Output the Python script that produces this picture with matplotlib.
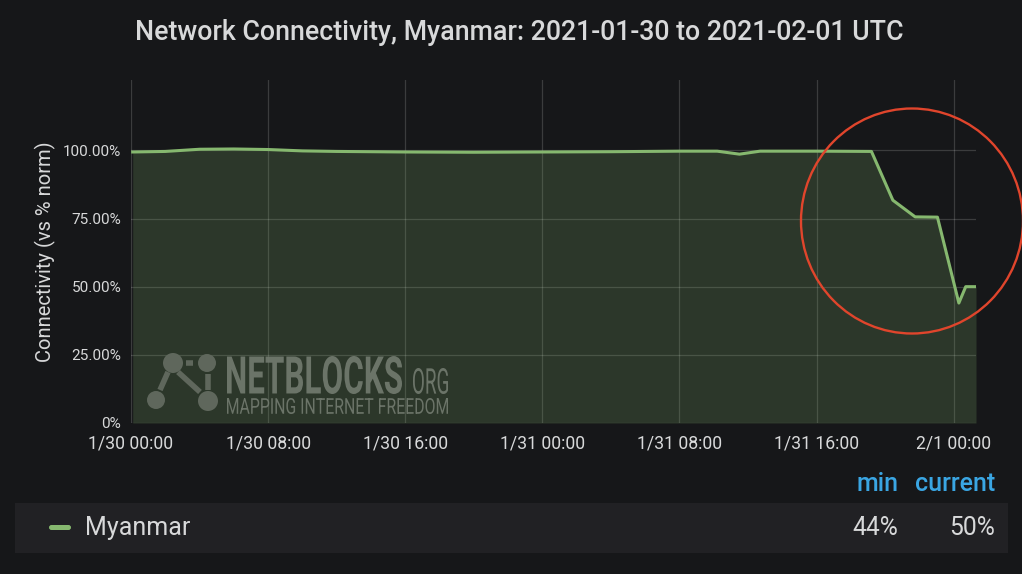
import matplotlib
matplotlib.use("Agg")
import matplotlib.pyplot as plt
from matplotlib.patches import Ellipse, Circle, PathPatch, FancyBboxPatch, Rectangle
from matplotlib.lines import Line2D
from matplotlib.transforms import Affine2D, IdentityTransform
from matplotlib.textpath import TextPath
from matplotlib.font_manager import FontProperties

# hours since 2021-01-30 00:00 UTC
hours = [0.1, 2.0, 4.0, 6.0, 8.0, 10.0, 12.0, 16.0, 20.0, 24.0, 28.0, 32.0,
         34.2, 35.5, 36.7, 40.0, 43.2, 44.45, 45.75, 47.05, 48.3, 48.7, 49.3]
connectivity = [99.4, 99.6, 100.4, 100.5, 100.3, 99.8, 99.6, 99.4, 99.3, 99.4,
                99.5, 99.7, 99.7, 98.6, 99.7, 99.7, 99.6, 81.7, 75.6, 75.5,
                44.0, 50.0, 50.0]
xtick_hours = [0, 8, 16, 24, 32, 40, 48]
xtick_labels = ["1/30 00:00", "1/30 08:00", "1/30 16:00", "1/31 00:00",
                "1/31 08:00", "1/31 16:00", "2/1 00:00"]
ytick_values = [0, 25, 50, 75, 100]
ytick_labels = ["0%", "25.00%", "50.00%", "75.00%", "100.00%"]
series_name = "Myanmar"
stat_names = ["min", "current"]
stat_values = ["44%", "50%"]

W, H = 1022, 574
BG = "#161719"
GREEN = "#86b86f"
TXT = "#d8d9da"

plt.rcParams['font.family'] = ['Roboto', 'DejaVu Sans']

fig = plt.figure(figsize=(W / 100, H / 100), dpi=100, facecolor=BG)
ax = fig.add_axes([131 / W, (H - 423) / H, (976 - 131) / W, (423 - 80) / H])
ax.set_facecolor(BG)

ax.fill_between(hours, connectivity, 0, color=GREEN, alpha=0.2, lw=0, zorder=2)
ax.plot(hours, connectivity, color=GREEN, lw=2.2, zorder=3, solid_joinstyle='round')

ax.set_xlim(hours[0], hours[-1])
ax.set_ylim(0, 125.8)
ax.set_xticks(xtick_hours)
ax.set_xticklabels(xtick_labels)
ax.set_yticks(ytick_values)
ax.set_yticklabels(ytick_labels)
ax.tick_params(axis='both', length=0, colors=TXT)
ax.tick_params(axis='x', labelsize=12.7, pad=8)
ax.tick_params(axis='y', labelsize=11, pad=7)
ax.grid(True, color='white', alpha=0.16, lw=0.9, zorder=1)
ax.set_axisbelow(True)
for s in ax.spines.values():
    s.set_visible(False)
ax.set_ylabel("Connectivity (vs % norm)", color=TXT, fontsize=14.5, labelpad=5)

fig.text(519 / W, (H - 33) / H, "Network Connectivity, Myanmar: 2021-01-30 to 2021-02-01 UTC",
         ha='center', va='center', color=TXT, fontsize=19.3, fontweight='medium')

# watermark
WM = "#737b70"
ident = IdentityTransform()


def stretched_text(s, x0, x1, ytop, ybot, weight='bold', color=WM):
    tp = TextPath((0, 0), s, size=1, prop=FontProperties(family='Roboto', weight=weight))
    bb = tp.get_extents()
    tr = (Affine2D().translate(-bb.x0, -bb.y0)
          .scale((x1 - x0) / bb.width, (ybot - ytop) / bb.height)
          .translate(x0, H - ybot))
    fig.add_artist(PathPatch(tp, transform=tr, facecolor=color, lw=0, alpha=0.9, zorder=2))


stretched_text("NETBLOCKS", 227, 402, 356, 394)
stretched_text("ORG", 413, 448, 368, 394, weight='normal')
stretched_text("MAPPING INTERNET FREEDOM", 227, 448, 398, 414, weight='normal')
nodes = [(173, 363, 10), (207, 363, 9), (156, 400, 9), (208, 401, 10)]
for nx, ny, r in nodes:
    fig.add_artist(Circle((nx, H - ny), r, transform=ident, color="#5f675c", lw=0, zorder=2))
for (xa, ya), (xb, yb) in [((186, 363), (193, 363)), ((178, 372), (200, 392)),
                           ((168, 372), (160, 390)), ((208, 374), (208, 390))]:
    fig.add_artist(Line2D([xa, xb], [H - ya, H - yb], transform=ident,
                          color="#5f675c", lw=4, solid_capstyle='butt', zorder=2))

# red annotation circle
fig.add_artist(Ellipse((912, H - 221), 222, 225, transform=ident, fill=False,
                       ec="#e0452c", lw=1.7, zorder=5))

# legend table
fig.add_artist(Rectangle((15, H - 553), 993, 50, transform=ident,
                         facecolor="#212124", lw=0, zorder=1))
fig.add_artist(FancyBboxPatch((49, H - 530), 22, 5, boxstyle="round,pad=0,rounding_size=2.5",
                              transform=ident, facecolor=GREEN, lw=0, zorder=2))
fig.text(85 / W, (H - 528) / H, series_name, color=TXT, fontsize=18, va='center', ha='left')
stat_right = [898, 995]
for name, val, xr in zip(stat_names, stat_values, stat_right):
    fig.text(xr / W, (H - 484) / H, name, color="#3aa6e3", fontsize=18,
             fontweight='medium', va='center', ha='right')
    fig.text(xr / W, (H - 528) / H, val, color=TXT, fontsize=17.8, va='center', ha='right')

fig.savefig("out.png", dpi=100, facecolor=BG)
